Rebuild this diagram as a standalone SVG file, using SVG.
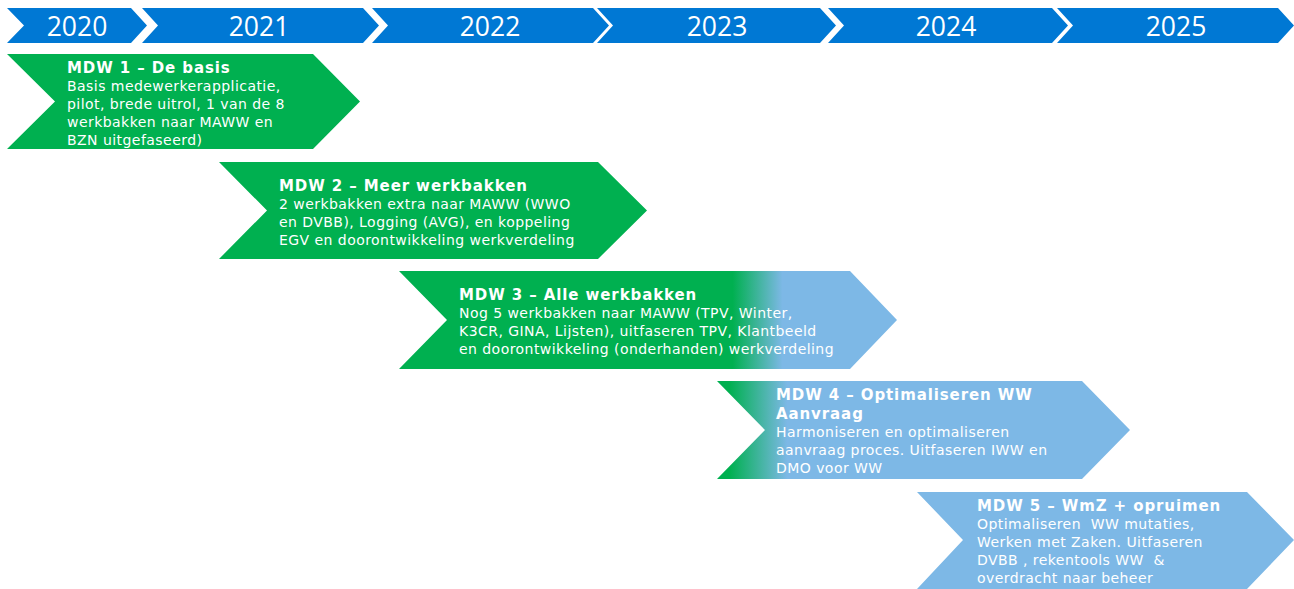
<svg xmlns="http://www.w3.org/2000/svg" width="1294" height="589" viewBox="0 0 1294 589">
<style>
.yr{fill:#0078D4}
.yt{font-family:"Open Sans","Liberation Sans",sans-serif;font-size:26.5px;fill:#fff;text-anchor:middle}
.t{font-family:"DejaVu Sans","Liberation Sans",sans-serif;font-size:14px;letter-spacing:0.45px;fill:#fff;white-space:pre}
.b{font-weight:bold;font-size:15px;letter-spacing:0.9px}
</style>
<defs>
<linearGradient id="g3" gradientUnits="userSpaceOnUse" x1="399" y1="0" x2="897" y2="0">
<stop offset="0.67" stop-color="#00B050"/><stop offset="0.77" stop-color="#7DB8E6"/>
</linearGradient>
<linearGradient id="g4" gradientUnits="userSpaceOnUse" x1="717" y1="0" x2="1130" y2="0">
<stop offset="0.03" stop-color="#00B050"/><stop offset="0.17" stop-color="#7DB8E6"/>
</linearGradient>
</defs>
<rect width="1294" height="589" fill="#fff"/>
<g id="timeline">
<polygon class="yr" points="7,8 131,8 147,25.5 131,43 7,43 24,25.5"/>
<polygon class="yr" points="142,8 363,8 379,25.5 363,43 142,43 158,25.5"/>
<polygon class="yr" points="372,8 593,8 609,25.5 593,43 372,43 388,25.5"/>
<polygon class="yr" points="597,8 820,8 836,25.5 820,43 597,43 613,25.5"/>
<polygon class="yr" points="828,8 1052,8 1068,25.5 1052,43 828,43 844,25.5"/>
<polygon class="yr" points="1057,8 1278,8 1294,25.5 1278,43 1057,43 1073,25.5"/>
<text class="yt" x="77" y="36">2020</text>
<text class="yt" x="259" y="36">2021</text>
<text class="yt" x="490" y="36">2022</text>
<text class="yt" x="717" y="36">2023</text>
<text class="yt" x="946" y="36">2024</text>
<text class="yt" x="1176" y="36">2025</text>
</g>
<g id="mdw1">
<polygon fill="#00B050" points="7,54 313,54 360,101.5 313,149 7,149 55,101.5"/>
<text class="t" x="67"><tspan class="b" y="73">MDW 1 – De basis</tspan><tspan x="67" y="91">Basis medewerkerapplicatie,</tspan><tspan x="67" y="109">pilot, brede uitrol, 1 van de 8</tspan><tspan x="67" y="127">werkbakken naar MAWW en</tspan><tspan x="67" y="145">BZN uitgefaseerd)</tspan></text>
</g>
<g id="mdw2">
<polygon fill="#00B050" points="219,162 598,162 647,210.5 598,259 219,259 267,210.5"/>
<text class="t" x="279"><tspan class="b" y="191">MDW 2 – Meer werkbakken</tspan><tspan x="279" y="209">2 werkbakken extra naar MAWW (WWO</tspan><tspan x="279" y="227">en DVBB), Logging (AVG), en koppeling</tspan><tspan x="279" y="245">EGV en doorontwikkeling werkverdeling</tspan></text>
</g>
<g id="mdw3">
<polygon fill="url(#g3)" points="399,271 850,271 897,320 850,369 399,369 447,320"/>
<text class="t" x="459"><tspan class="b" y="300">MDW 3 – Alle werkbakken</tspan><tspan x="459" y="318">Nog 5 werkbakken naar MAWW (TPV, Winter,</tspan><tspan x="459" y="336">K3CR, GINA, Lijsten), uitfaseren TPV, Klantbeeld</tspan><tspan x="459" y="354">en doorontwikkeling (onderhanden) werkverdeling</tspan></text>
</g>
<g id="mdw4">
<polygon fill="url(#g4)" points="717,381 1082,381 1130,430 1082,479 717,479 765,430"/>
<text class="t" x="776"><tspan class="b" y="400">MDW 4 – Optimaliseren WW</tspan><tspan class="b" x="776" y="418.5">Aanvraag</tspan><tspan x="776" y="437">Harmoniseren en optimaliseren</tspan><tspan x="776" y="455">aanvraag proces. Uitfaseren IWW en</tspan><tspan x="776" y="473">DMO voor WW</tspan></text>
</g>
<g id="mdw5">
<polygon fill="#7DB8E6" points="917,492 1247,492 1294,540 1247,589 917,589 963,540"/>
<text class="t" x="977"><tspan class="b" y="511">MDW 5 – WmZ + opruimen</tspan><tspan x="977" y="529">Optimaliseren  WW mutaties,</tspan><tspan x="977" y="547">Werken met Zaken. Uitfaseren</tspan><tspan x="977" y="565">DVBB , rekentools WW  &amp;</tspan><tspan x="977" y="583">overdracht naar beheer</tspan></text>
</g>
<g id="connectors"/>
</svg>
